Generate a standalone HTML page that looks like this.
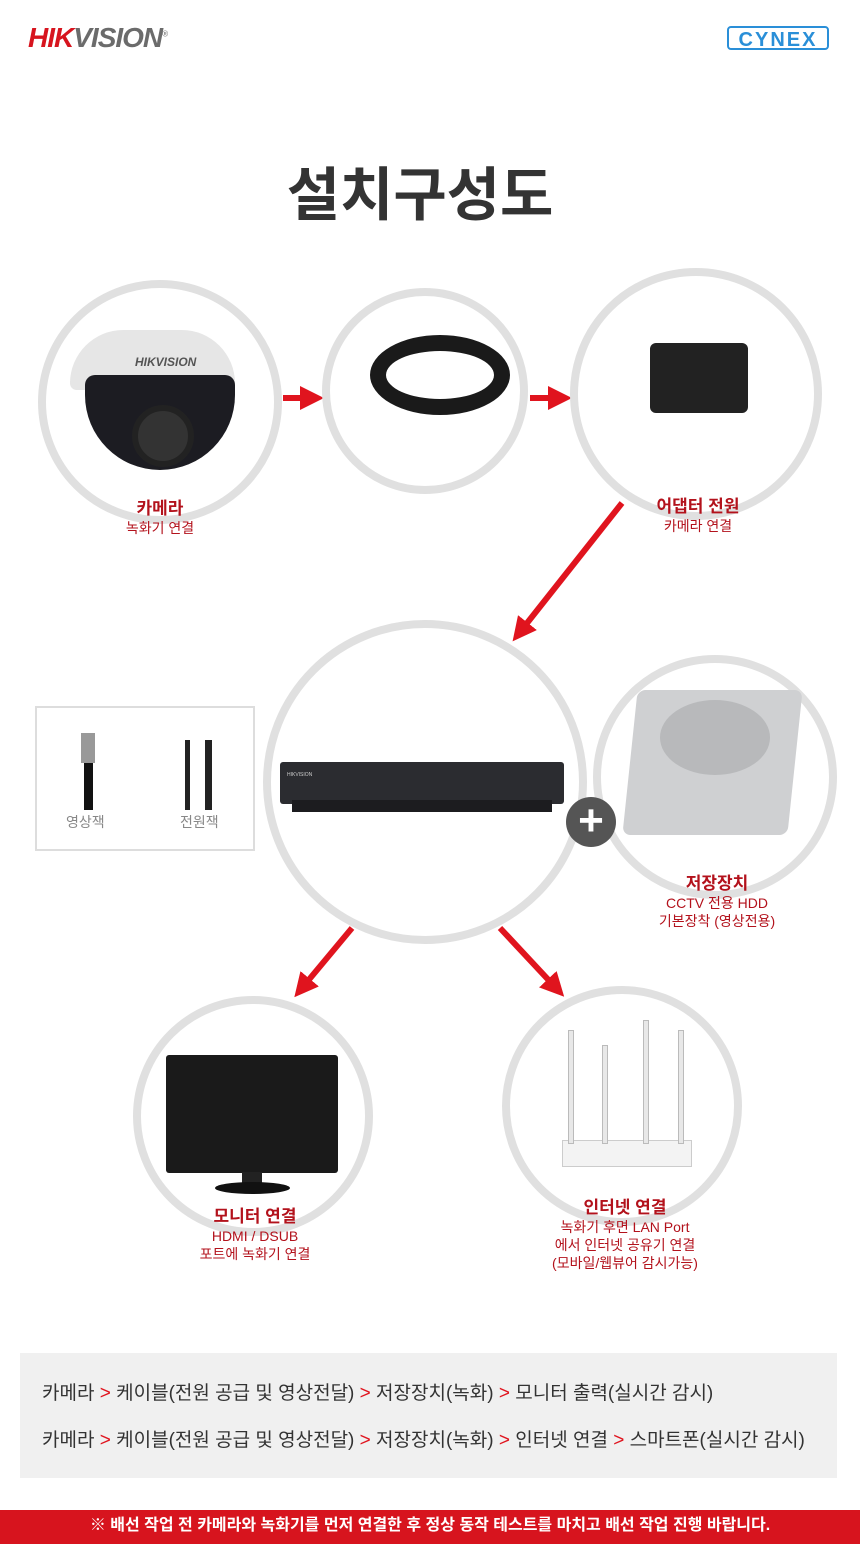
<!DOCTYPE html>
<html><head><meta charset="utf-8"><style>
body{margin:0;width:860px;height:1544px;background:#fff;position:relative;overflow:hidden;font-family:"Liberation Sans","Noto Sans CJK KR",sans-serif}
.a{position:absolute}
.c{position:absolute;border:8px solid #e0e0e0;border-radius:50%;box-sizing:border-box;background:#fff}
.lb{position:absolute;text-align:center;color:#b3121c;font-size:14px;line-height:18px;width:240px}
.lb b{font-size:17px;display:block;line-height:20px}
.r{color:#e0141e}
</style></head><body>
<div class="a" style="left:28px;top:22px;font:italic bold 28px 'Liberation Sans',sans-serif;letter-spacing:-1px"><span style="color:#d7141e">HIK</span><span style="color:#6b6b6b">VISION</span><sup style="font-size:8px;color:#888">®</sup></div>
<div class="a" style="left:727px;top:26px;width:102px;height:24px;border:2px solid #2a8fd8;border-radius:4px;color:#2a8fd8;font:bold 20px 'Liberation Sans';line-height:24px;text-align:center;box-sizing:border-box;letter-spacing:2px">CYNEX</div>
<div class="a" style="left:0;top:148px;width:840px;text-align:center;font-size:58px;font-weight:bold;color:#333">설치구성도</div>

<svg class="a" style="left:0;top:0" width="860" height="1544">
<defs><marker id="m" markerWidth="4" markerHeight="4" refX="2" refY="2" orient="auto"><path d="M0,0 L4,2 L0,4z" fill="#e0141e"/></marker></defs>
<g stroke="#e0141e" stroke-width="6" fill="none">
<path d="M283,398 H312" marker-end="url(#m)"/>
<path d="M530,398 H560" marker-end="url(#m)"/>
<path d="M622,503 L520,632" marker-end="url(#m)"/>
<path d="M352,928 L302,988" marker-end="url(#m)"/>
<path d="M500,928 L556,988" marker-end="url(#m)"/>
</g></svg>

<div class="c" style="left:38px;top:280px;width:244px;height:244px"></div>
<div class="a" style="left:70px;top:330px;width:165px;height:60px;background:#e6e6e6;border-radius:80px 80px 10px 10px"></div>
<div class="a" style="left:135px;top:355px;font:bold italic 12px 'Liberation Sans';color:#555">HIKVISION</div>
<div class="a" style="left:85px;top:375px;width:150px;height:95px;background:#1c1c22;border-radius:10px 10px 75px 75px"></div>
<div class="a" style="left:132px;top:405px;width:50px;height:50px;background:#333;border-radius:50%;border:6px solid #222"></div>
<div class="c" style="left:322px;top:288px;width:206px;height:206px"></div>
<div class="a" style="left:370px;top:335px;width:140px;height:80px;border:16px solid #1a1a1a;border-radius:50%;box-sizing:border-box"></div>
<div class="c" style="left:570px;top:268px;width:252px;height:252px"></div>
<div class="a" style="left:650px;top:343px;width:98px;height:70px;background:#222;border-radius:6px"></div>
<div class="lb" style="left:40px;top:499px"><b>카메라</b>녹화기 연결</div>
<div class="lb" style="left:578px;top:497px"><b>어댑터 전원</b>카메라 연결</div>

<div class="a" style="left:35px;top:706px;width:220px;height:145px;border:2px solid #ddd;box-sizing:border-box"></div>
<div class="a" style="left:81px;top:733px;width:14px;height:30px;background:#999"></div>
<div class="a" style="left:84px;top:763px;width:9px;height:47px;background:#111"></div>
<div class="a" style="left:185px;top:740px;width:5px;height:70px;background:#222"></div>
<div class="a" style="left:205px;top:740px;width:7px;height:70px;background:#222"></div>
<div class="a" style="left:66px;top:812px;font-size:14px;color:#888">영상잭</div>
<div class="a" style="left:180px;top:812px;font-size:14px;color:#888">전원잭</div>

<div class="c" style="left:593px;top:655px;width:244px;height:244px"></div>
<div class="a" style="left:630px;top:690px;width:165px;height:145px;background:#cfd0d2;border-radius:8px;transform:skewX(-6deg)"></div>
<div class="a" style="left:660px;top:700px;width:110px;height:75px;background:#b8b9bb;border-radius:50%"></div>
<div class="c" style="left:263px;top:620px;width:324px;height:324px"></div>
<div class="a" style="left:280px;top:762px;width:284px;height:42px;background:#2b2c30;border-radius:3px"></div>
<div class="a" style="left:292px;top:800px;width:260px;height:12px;background:#1c1c1f"></div>
<div class="a" style="left:287px;top:772px;font-size:5px;color:#ccc">HIKVISION</div>
<div class="a" style="left:566px;top:797px;width:50px;height:50px;background:#555;border-radius:50%;color:#fff;font:bold 44px/48px 'Liberation Sans';text-align:center">+</div>
<div class="lb" style="left:597px;top:874px"><b>저장장치</b>CCTV 전용 HDD<br>기본장착 (영상전용)</div>

<div class="c" style="left:133px;top:996px;width:240px;height:240px"></div>
<div class="a" style="left:166px;top:1055px;width:172px;height:118px;background:#1a1a1a;border-radius:3px"></div>
<div class="a" style="left:242px;top:1172px;width:20px;height:12px;background:#222"></div>
<div class="a" style="left:215px;top:1182px;width:75px;height:12px;background:#111;border-radius:50%"></div>
<div class="lb" style="left:135px;top:1207px"><b>모니터 연결</b>HDMI / DSUB<br>포트에 녹화기 연결</div>

<div class="c" style="left:502px;top:986px;width:240px;height:240px"></div>
<div class="a" style="left:562px;top:1140px;width:128px;height:25px;background:#f3f3f3;border:1px solid #ccc"></div>
<div class="a" style="left:568px;top:1030px;width:4px;height:112px;background:#e8e8e8;border:1px solid #bbb"></div>
<div class="a" style="left:602px;top:1045px;width:4px;height:97px;background:#e8e8e8;border:1px solid #bbb"></div>
<div class="a" style="left:643px;top:1020px;width:4px;height:122px;background:#e8e8e8;border:1px solid #bbb"></div>
<div class="a" style="left:678px;top:1030px;width:4px;height:112px;background:#e8e8e8;border:1px solid #bbb"></div>
<div class="lb" style="left:505px;top:1198px"><b>인터넷 연결</b>녹화기 후면 LAN Port<br>에서 인터넷 공유기 연결<br>(모바일/웹뷰어 감시가능)</div>

<div class="a" style="left:20px;top:1353px;width:817px;height:125px;background:#f0f0f0"></div>
<div class="a" style="left:42px;top:1378px;font-size:19px;color:#333">카메라 <span class="r">&gt;</span> 케이블(전원 공급 및 영상전달) <span class="r">&gt;</span> 저장장치(녹화) <span class="r">&gt;</span> 모니터 출력(실시간 감시)</div>
<div class="a" style="left:42px;top:1425px;font-size:19px;color:#333">카메라 <span class="r">&gt;</span> 케이블(전원 공급 및 영상전달) <span class="r">&gt;</span> 저장장치(녹화) <span class="r">&gt;</span> 인터넷 연결 <span class="r">&gt;</span> 스마트폰(실시간 감시)</div>
<div class="a" style="left:0;top:1510px;width:860px;height:34px;background:#d7141e;color:#fff;font-size:16px;font-weight:bold;text-align:center;line-height:32px">※ 배선 작업 전 카메라와 녹화기를 먼저 연결한 후 정상 동작 테스트를 마치고 배선 작업 진행 바랍니다.</div>
</body></html>
